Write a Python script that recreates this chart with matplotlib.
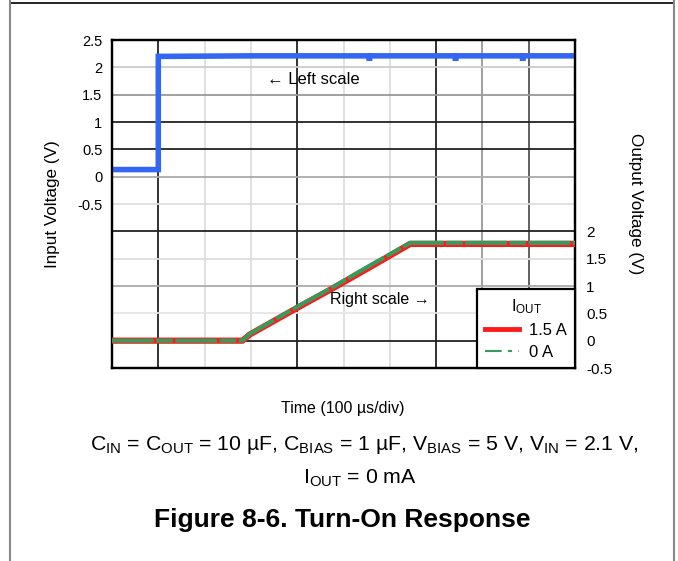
import matplotlib.pyplot as plt
from matplotlib import rc
from matplotlib.lines import Line2D

rc('font', family=['Liberation Sans', 'DejaVu Sans'])
rc('mathtext', default='regular', fontset='custom', rm='Liberation Sans',
   it='Liberation Sans:italic', bf='Liberation Sans:bold')

# time in divisions (100 us/div)
vin_t = [0.0, 1.0, 1.0, 3.0, 5.55, 5.56, 5.57, 7.41, 7.42, 7.43, 8.86, 8.87, 8.88, 10.0]
vin_v = [0.13, 0.13, 2.2, 2.21, 2.21, 2.12, 2.21, 2.21, 2.12, 2.21, 2.21, 2.12, 2.21, 2.21]

vout_t = [0.0, 2.82, 2.97, 4.0, 4.71, 5.5, 6.44, 10.0]
vout_15a = [0.0, 0.0, 0.11, 0.6, 0.93, 1.31, 1.77, 1.77]
vout_0a = [0.0, 0.0, 0.12, 0.62, 0.95, 1.34, 1.79, 1.79]

left_ticks = [-0.5, 0, 0.5, 1, 1.5, 2, 2.5]
right_ticks = [-0.5, 0, 0.5, 1, 1.5, 2]

fig = plt.figure(figsize=(6.78, 5.61), dpi=100)
ax1 = fig.add_axes([112/678, 1-368/561, 463/678, 328/561])
ax1.set_xlim(0, 10)
ax1.set_ylim(-3.5, 2.5)

# scope graticule
vgrid = {1: '#222222', 2: '#dddddd', 3: '#dddddd', 4: '#222222', 5: '#dddddd',
         6: '#dddddd', 7: '#222222', 8: '#999999', 9: '#555555'}
for x, c in vgrid.items():
    ax1.axvline(x, color=c, lw=1.3, zorder=1)
hgrid = {2.0: '#cccccc', 1.5: '#999999', 1.0: '#222222', 0.5: '#222222', 0.0: '#aaaaaa',
         -0.5: '#dddddd', -1.0: '#222222', -1.5: '#dddddd', -2.0: '#aaaaaa',
         -2.5: '#e6e6e6', -3.0: '#222222'}
for y, c in hgrid.items():
    ax1.axhline(y, color=c, lw=1.3, zorder=1)

ax1.plot(vin_t, vin_v, color='#3366f2', lw=4, solid_joinstyle='miter', zorder=3)
ax1.set_xticks([])
ax1.set_yticks(left_ticks)
ax1.set_yticklabels(['-0.5', '0', '0.5', '1', '1.5', '2', '2.5'])
ax1.tick_params(axis='y', length=0, pad=7, labelsize=10.5)
for s in ax1.spines.values():
    s.set_linewidth(1.6)
ax1.set_ylabel('Input Voltage (V)', fontsize=12.3, labelpad=12)

ax2 = ax1.twinx()
ax2.set_ylim(-0.5, 5.5)
ax2.plot(vout_t, vout_15a, color='#ff1a1a', lw=4.5, zorder=3)
ax2.plot(vout_t, vout_0a, color='#3a9a5e', lw=3, ls=(0, (10, 0.6, 4, 0.6)), zorder=4)
ax2.set_yticks(right_ticks)
ax2.set_yticklabels(['-0.5', '0', '0.5', '1', '1.5', '2'])
ax2.tick_params(axis='y', length=0, pad=8, labelsize=11)
ax2.set_ylabel('Output Voltage (V)', fontsize=12.3, rotation=270, labelpad=22)
for s in ax2.spines.values():
    s.set_linewidth(1.6)

handles = [Line2D([], [], color='#ff1a1a', lw=3.5),
           Line2D([], [], color='#3a9a5e', lw=1.5, ls=(0, (8, 3, 2, 3)))]
leg = ax2.legend(handles, ['1.5 A', '0 A'], title='I$_{OUT}$', loc='lower right',
                 bbox_to_anchor=(1.0, 0.0), fontsize=12, title_fontsize=12,
                 frameon=True, fancybox=False, borderaxespad=0, handlelength=2.0,
                 labelspacing=0.4, borderpad=0.5, handletextpad=0.6)
leg.get_frame().set_edgecolor('black')
leg.get_frame().set_linewidth(1.6)
leg.get_frame().set_alpha(1)

ax1.text(3.35, 1.77, '← Left scale', fontsize=12, ha='left', va='center', zorder=5)
ax2.text(4.7, 0.76, 'Right scale →', fontsize=11.5, ha='left', va='center', zorder=5)

fig.text(343/678, 1-408/561, 'Time (100 \u00b5s/div)', fontsize=11.5, ha='center', va='center')
fig.text(364/678, 1-445/561,
         'C$_{IN}$ = C$_{OUT}$ = 10 \u00b5F, C$_{BIAS}$ = 1 \u00b5F, V$_{BIAS}$ = 5 V, V$_{IN}$ = 2.1 V,',
         fontsize=15.3, ha='center', va='center')
fig.text(360/678, 1-478/561, 'I$_{OUT}$ = 0 mA', fontsize=15.3, ha='center', va='center')
fig.text(342/678, 1-520/561, 'Figure 8-6. Turn-On Response', fontsize=19,
         fontweight='bold', ha='center', va='center')

# page frame
fig.add_artist(Line2D([10/678, 674/678], [1-3/561, 1-3/561], color='black', lw=1.2))
fig.add_artist(Line2D([10/678, 10/678], [0, 1], color='#888888', lw=1.5))
fig.add_artist(Line2D([674/678, 674/678], [0, 1], color='#888888', lw=1.5))

fig.savefig('out.png', dpi=100)
